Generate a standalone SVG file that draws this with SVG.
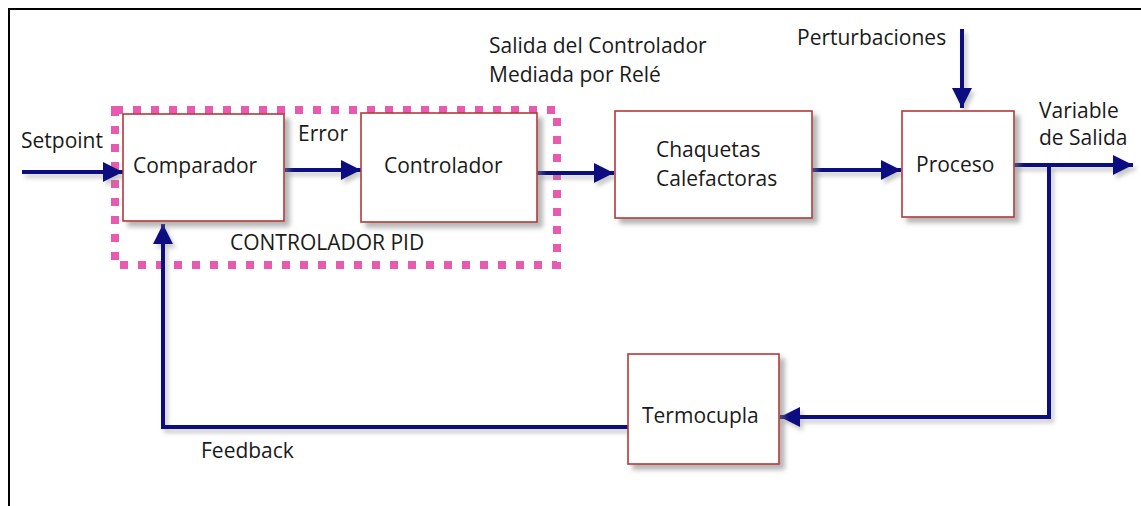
<svg xmlns="http://www.w3.org/2000/svg" width="1141" height="506" viewBox="0 0 1141 506">
  <style>
    .box { fill: #ffffff; stroke: #b33a3a; stroke-width: 1.6; filter: url(#shadow); }
    .lbl { font-family: "Open Sans", "Liberation Sans", sans-serif; font-size: 21px; fill: #1a1a1a; }
    .wire { fill: none; stroke: #0a0a82; stroke-width: 4; filter: url(#lshadow); }
    .arrow { marker-end: url(#ah); }
    .pid { fill: none; stroke: #e85aae; stroke-width: 8; stroke-dasharray: 8 10; }
  </style>
  <defs>
    <filter id="shadow" x="-10%" y="-10%" width="130%" height="130%">
      <feDropShadow dx="5" dy="5" stdDeviation="2.5" flood-color="#777777" flood-opacity="0.55"/>
    </filter>
    <filter id="lshadow" filterUnits="userSpaceOnUse" x="0" y="0" width="1141" height="506">
      <feDropShadow dx="3" dy="4" stdDeviation="2" flood-color="#888888" flood-opacity="0.45"/>
    </filter>
    <marker id="ah" markerUnits="userSpaceOnUse" markerWidth="20" markerHeight="20" refX="20" refY="10" orient="auto">
      <path d="M0,0 L20,10 L0,20 Z" fill="#0a0a82"/>
    </marker>
  </defs>

  <rect x="9" y="9" width="1140" height="505" fill="#ffffff" stroke="#000000" stroke-width="2"/>

  <g id="pid-boundary">
    <rect class="pid" x="115" y="110" width="442" height="155"/>
    <text class="lbl" x="230" y="250">CONTROLADOR PID</text>
  </g>

  <g id="connectors">
    <path class="wire arrow" d="M22,172 L123,172"/>
    <path class="wire arrow" d="M285,170 L361,170"/>
    <path class="wire arrow" d="M537,173 L614,173"/>
    <path class="wire arrow" d="M812,170 L901,170"/>
    <path class="wire arrow" d="M962,29 L962,108"/>
    <path class="wire arrow" d="M1014,165 L1133,165"/>
    <path class="wire arrow" d="M1049,165 L1049,417 L780,417"/>
    <path class="wire arrow" d="M628,427 L163,427 L163,224"/>
  </g>

  <g id="comparador">
    <rect class="box" x="123" y="114" width="161" height="107"/>
    <text class="lbl" x="133" y="173">Comparador</text>
  </g>
  <g id="controlador">
    <rect class="box" x="361" y="113" width="176" height="109"/>
    <text class="lbl" x="384" y="173">Controlador</text>
  </g>
  <g id="chaquetas">
    <rect class="box" x="615" y="111" width="197" height="107"/>
    <text class="lbl" x="656" y="157">Chaquetas</text>
    <text class="lbl" x="656" y="186">Calefactoras</text>
  </g>
  <g id="proceso">
    <rect class="box" x="902" y="111" width="112" height="106"/>
    <text class="lbl" x="916" y="172">Proceso</text>
  </g>
  <g id="termocupla">
    <rect class="box" x="628" y="354" width="151" height="110"/>
    <text class="lbl" x="642" y="423">Termocupla</text>
  </g>

  <g id="labels">
    <text class="lbl" x="21" y="148">Setpoint</text>
    <text class="lbl" x="298" y="141">Error</text>
    <text class="lbl" x="489" y="53">Salida del Controlador</text>
    <text class="lbl" x="489" y="82">Mediada por Relé</text>
    <text class="lbl" x="797" y="45">Perturbaciones</text>
    <text class="lbl" x="1039" y="118">Variable</text>
    <text class="lbl" x="1039" y="145">de Salida</text>
    <text class="lbl" x="201" y="458">Feedback</text>
  </g>
</svg>
